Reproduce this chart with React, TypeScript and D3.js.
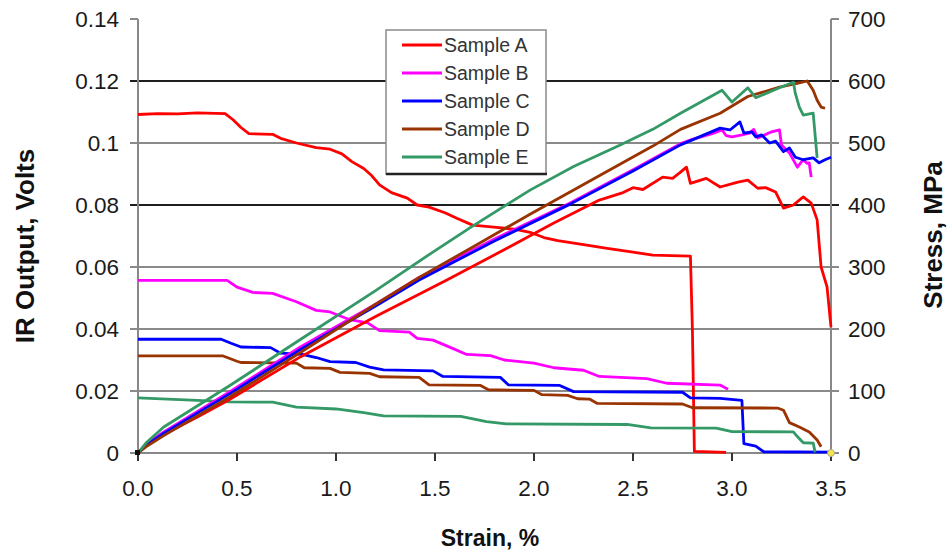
import React from 'react';
import * as d3 from 'd3';

// strain (%) vs IR output (volts)
const irA = [[0,0.1092],[0.1,0.1095],[0.2,0.1094],[0.3,0.1097],[0.44,0.1095],[0.48,0.1075],[0.52,0.105],[0.56,0.103],[0.68,0.1028],[0.72,0.1015],[0.8,0.1],[0.9,0.0985],[0.97,0.098],[1.03,0.0965],[1.08,0.094],[1.14,0.0918],[1.18,0.0895],[1.22,0.0865],[1.28,0.084],[1.36,0.0822],[1.41,0.08],[1.47,0.0793],[1.55,0.0775],[1.61,0.0757],[1.69,0.0735],[1.81,0.0728],[1.9,0.0722],[1.98,0.0712],[2.05,0.0695],[2.12,0.0685],[2.25,0.0672],[2.37,0.066],[2.5,0.0648],[2.6,0.0638],[2.79,0.0635],[2.8,0.04],[2.81,0.0005],[2.97,0.0002]];
const irB = [[0,0.0557],[0.45,0.0557],[0.5,0.0535],[0.58,0.0518],[0.68,0.0515],[0.8,0.0488],[0.9,0.046],[0.97,0.0455],[1.07,0.043],[1.16,0.042],[1.22,0.0395],[1.37,0.039],[1.41,0.037],[1.49,0.0364],[1.58,0.034],[1.66,0.0318],[1.78,0.0314],[1.85,0.03],[2.0,0.029],[2.1,0.0275],[2.25,0.0267],[2.33,0.0247],[2.57,0.024],[2.67,0.0225],[2.94,0.0219],[2.98,0.0206]];
const irC = [[0,0.0367],[0.42,0.0367],[0.47,0.0354],[0.52,0.0342],[0.67,0.034],[0.72,0.0322],[0.83,0.0318],[0.9,0.0308],[0.97,0.0295],[1.1,0.0292],[1.17,0.0277],[1.24,0.0268],[1.49,0.0265],[1.54,0.0247],[1.83,0.0244],[1.87,0.022],[2.13,0.0218],[2.2,0.0198],[2.75,0.0196],[2.79,0.0178],[2.94,0.0176],[3.05,0.017],[3.06,0.003],[3.12,0.0022],[3.16,0.0004],[3.5,0.0003]];
const irD = [[0,0.0313],[0.43,0.0313],[0.5,0.0296],[0.52,0.0292],[0.8,0.029],[0.84,0.0275],[0.97,0.0273],[1.02,0.026],[1.17,0.0257],[1.22,0.0246],[1.42,0.0244],[1.47,0.022],[1.73,0.0218],[1.77,0.0204],[2.0,0.0202],[2.04,0.0188],[2.17,0.0186],[2.22,0.0175],[2.28,0.0174],[2.32,0.016],[2.75,0.0158],[2.8,0.0146],[3.23,0.0145],[3.26,0.0138],[3.29,0.0098],[3.34,0.0084],[3.39,0.0068],[3.43,0.0042],[3.45,0.002]];
const irE = [[0,0.0178],[0.3,0.017],[0.46,0.0165],[0.68,0.0164],[0.8,0.0148],[1.0,0.0142],[1.14,0.013],[1.24,0.012],[1.63,0.0118],[1.76,0.0101],[1.86,0.0094],[2.47,0.0092],[2.59,0.0081],[2.92,0.008],[3.0,0.0069],[3.31,0.0068],[3.33,0.0053],[3.36,0.0033],[3.41,0.0032],[3.42,0.0002]];

// strain (%) vs stress (MPa)
const stA = [[0,0],[0.04,12],[0.13,30],[0.3,58],[0.46,86],[0.82,155],[1.2,220],[1.56,279],[1.88,333],[2.1,371],[2.33,408],[2.45,420],[2.5,428],[2.55,425],[2.65,445],[2.7,443],[2.74,453],[2.77,461],[2.79,435],[2.87,443],[2.94,429],[3.03,437],[3.08,440],[3.13,427],[3.17,428],[3.22,421],[3.26,395],[3.31,400],[3.36,413],[3.4,403],[3.43,376],[3.45,300],[3.48,268],[3.5,203]];
const stB = [[0,0],[0.04,14],[0.13,34],[0.46,98],[0.82,171],[1.2,240],[1.42,283],[1.8,345],[2.18,403],[2.5,457],[2.74,499],[2.8,506],[2.9,515],[2.95,521],[2.97,512],[3.0,510],[3.05,513],[3.09,516],[3.11,522],[3.13,508],[3.2,518],[3.24,521],[3.25,497],[3.29,484],[3.33,461],[3.36,473],[3.38,467],[3.39,468],[3.4,445]];
const stC = [[0,0],[0.04,12],[0.13,32],[0.46,95],[0.82,167],[1.2,237],[1.42,279],[1.8,342],[2.18,401],[2.5,455],[2.74,497],[2.94,524],[2.99,521],[3.04,534],[3.06,516],[3.1,518],[3.12,510],[3.15,513],[3.19,500],[3.22,503],[3.26,486],[3.29,492],[3.32,477],[3.36,473],[3.41,476],[3.44,468],[3.47,473],[3.5,477]];
const stD = [[0,0],[0.04,10],[0.13,28],[0.46,90],[0.82,162],[1.2,240],[1.42,283],[1.7,334],[1.98,385],[2.3,442],[2.6,495],[2.74,522],[2.94,548],[3.08,575],[3.24,590],[3.34,597],[3.38,600],[3.41,585],[3.43,569],[3.45,558],[3.47,556]];
const stE = [[0,0],[0.04,16],[0.13,42],[0.46,108],[0.82,183],[1.2,262],[1.47,320],[1.68,364],[1.98,424],[2.2,462],[2.43,496],[2.6,522],[2.74,548],[2.95,585],[3.0,566],[3.08,589],[3.12,573],[3.24,589],[3.31,598],[3.32,580],[3.34,558],[3.36,545],[3.41,548],[3.43,476]];

const sampleNames = ['Sample A', 'Sample B', 'Sample C', 'Sample D', 'Sample E'];
const sampleColors = ['#ff0000', '#ff00ff', '#0000ff', '#993300', '#339966'];
const irSeries = [irA, irB, irC, irD, irE];
const stressSeries = [stA, stB, stC, stD, stE];

const xTicks = [0, 0.5, 1.0, 1.5, 2.0, 2.5, 3.0, 3.5];
const leftTicks = [0, 0.02, 0.04, 0.06, 0.08, 0.1, 0.12, 0.14];
const leftLabels = ['0', '0.02', '0.04', '0.06', '0.08', '0.1', '0.12', '0.14'];
const rightTicks = [0, 100, 200, 300, 400, 500, 600, 700];
const darkGrid = [0.08, 0.12];

const FONT = '"Liberation Sans", Arial, Helvetica, sans-serif';

export default function App() {
    const x = d3.scaleLinear().domain([0, 3.5]).range([138, 831]);
    const yL = d3.scaleLinear().domain([0, 0.14]).range([453, 19]);
    const yR = d3.scaleLinear().domain([0, 700]).range([453, 19]);

    const irLine = d3.line<number[]>().x(d => x(d[0])).y(d => yL(d[1]));
    const stLine = d3.line<number[]>().x(d => x(d[0])).y(d => yR(d[1]));

    return (
        <svg width={951} height={556} style={{position: 'absolute', left: 0, top: 0, background: '#fff'}}>
            <rect x={0} y={0} width={951} height={556} fill="#fff"/>
            {/* grid + left/right ticks */}
            {leftTicks.map((t, i) => {
                if (t === 0) return null;
                const dark = darkGrid.some(g => Math.abs(g - t) < 1e-9);
                const top = i === leftTicks.length - 1;
                return top ? (
                    <g key={'g' + i}>
                        <line x1={130} x2={138} y1={yL(t)} y2={yL(t)} stroke="#888" strokeWidth={2}/>
                        <line x1={831} x2={839} y1={yL(t)} y2={yL(t)} stroke="#888" strokeWidth={2}/>
                    </g>
                ) : (
                    <line key={'g' + i} x1={130} x2={839} y1={yL(t)} y2={yL(t)}
                          stroke={dark ? '#1e1e1e' : '#8a8a8a'} strokeWidth={2}/>
                );
            })}
            {/* axes */}
            <line x1={138} x2={138} y1={19} y2={453} stroke="#888" strokeWidth={2}/>
            <line x1={831} x2={831} y1={19} y2={453} stroke="#888" strokeWidth={2}/>
            <line x1={130} x2={839} y1={453} y2={453} stroke="#888" strokeWidth={2}/>
            {xTicks.map((t, i) => (
                <line key={'xt' + i} x1={x(t)} x2={x(t)} y1={453} y2={461} stroke="#333" strokeWidth={2}/>
            ))}

            {/* tick labels */}
            <g fontFamily={FONT} fontSize={22.5} fill="#1a1a1a">
                {leftTicks.map((t, i) => (
                    <text key={'ll' + i} x={119} y={yL(t)} dy="0.36em" textAnchor="end">{leftLabels[i]}</text>
                ))}
                {rightTicks.map((t, i) => (
                    <text key={'rl' + i} x={848} y={yR(t)} dy="0.36em" textAnchor="start">{t}</text>
                ))}
                {xTicks.map((t, i) => (
                    <text key={'xl' + i} x={x(t)} y={496} textAnchor="middle">{d3.format('.1f')(t)}</text>
                ))}
            </g>

            {/* axis titles */}
            <g fontFamily={FONT} fontWeight="bold" fill="#111">
                <text x={490} y={546} fontSize={23} textAnchor="middle">Strain, %</text>
                <text transform="translate(34,246) rotate(-90)" fontSize={26} textAnchor="middle">IR Output, Volts</text>
                <text transform="translate(942,235) rotate(-90)" fontSize={26} textAnchor="middle">Stress, MPa</text>
            </g>

            {/* series */}
            <g fill="none" strokeWidth={2.8} strokeLinejoin="round">
                {irSeries.map((s, i) => (
                    <path key={'ir' + i} d={irLine(s) || ''} stroke={sampleColors[i]}/>
                ))}
                {stressSeries.map((s, i) => (
                    <path key={'st' + i} d={stLine(s) || ''} stroke={sampleColors[i]}/>
                ))}
            </g>
            <rect x={x(0) - 3} y={yL(0) - 3} width={5} height={5} fill="#111"/>
            <circle cx={x(3.5)} cy={yL(0)} r={3.5} fill="#f5e642" stroke="#aaa" strokeWidth={1}/>

            {/* legend */}
            <g>
                <rect x={386} y={30} width={160} height={144} fill="#fff" stroke="#8a8a8a" strokeWidth={1.5}/>
                <line x1={386} x2={547} y1={174} y2={174} stroke="#222" strokeWidth={2.5}/>
                {sampleNames.map((n, i) => {
                    const yy = 45 + i * 28;
                    return (
                        <g key={'lg' + i}>
                            <line x1={402} x2={442} y1={yy} y2={yy} stroke={sampleColors[i]} strokeWidth={3}/>
                            <text x={444} y={yy} dy="0.35em" fontFamily={FONT} fontSize={19.5} fill="#333">{n}</text>
                        </g>
                    );
                })}
            </g>
        </svg>
    );
}
